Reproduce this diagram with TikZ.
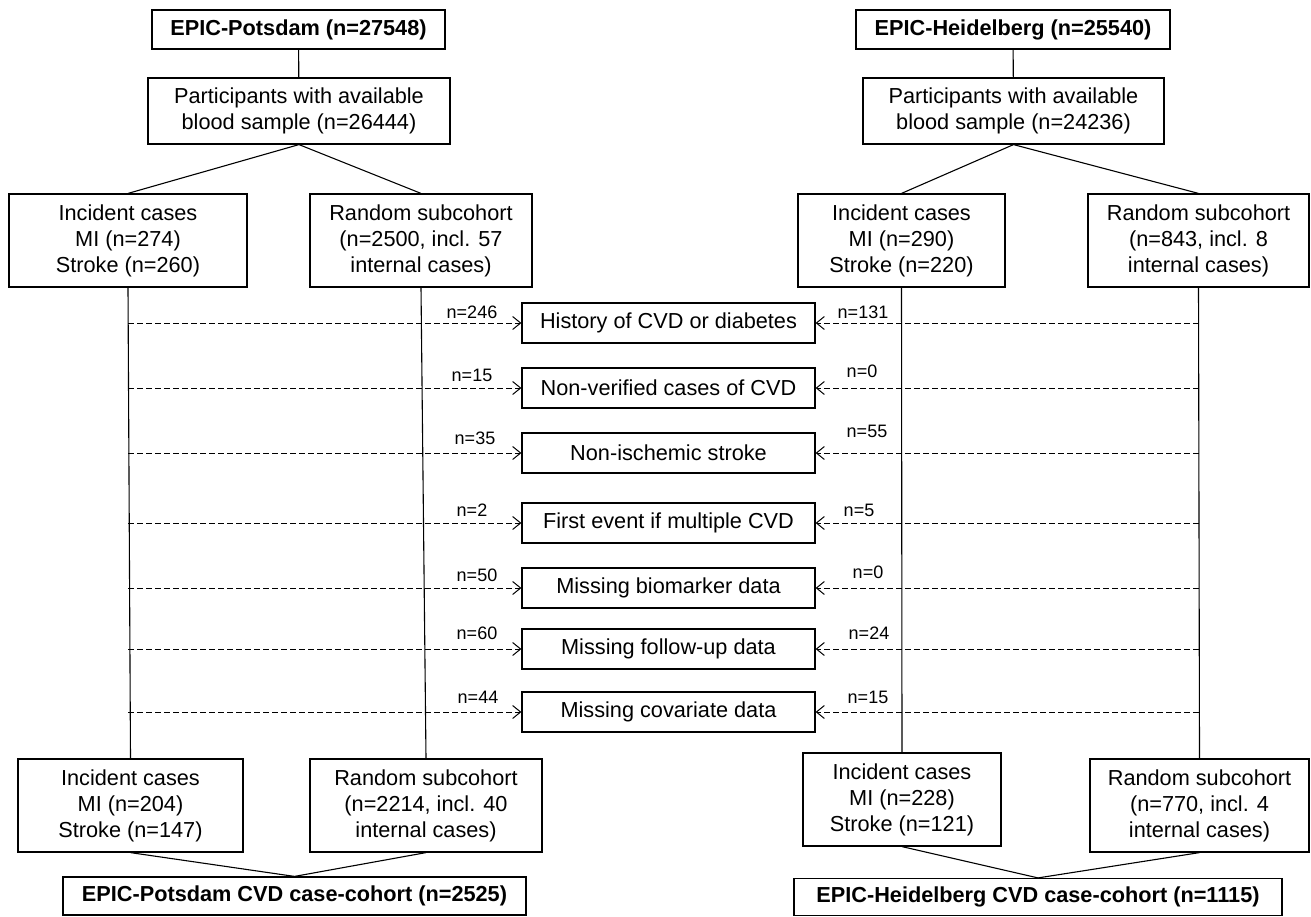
\documentclass[tikz,border=0pt]{standalone}
\usepackage{fontspec}
\setmainfont{Liberation Sans}
\usetikzlibrary{arrows.meta}
\begin{document}
\begin{tikzpicture}[x=1pt,y=-1pt,
 box/.style={draw, line width=1.2pt, align=center, inner sep=0pt, font=\fontsize{21.7}{26}\selectfont},
 tbox/.style={box, font=\fontsize{21.7}{26}\selectfont\bfseries},
 conn/.style={line width=1.1pt},
 excl/.style={line width=1pt, dash pattern=on 5.5pt off 3.5pt, -{Straight Barb[length=8pt,width=13pt,line width=1pt]}},
 lab/.style={font=\fontsize{18}{20}\selectfont, inner sep=0pt}]
\useasboundingbox (0,0) rectangle (1311,916);
% ---------- Potsdam ----------
\node[tbox, minimum width=293pt, minimum height=39pt] (P0) at (298.5,29.5) {EPIC-Potsdam (n=27548)};
\node[box, minimum width=302pt, minimum height=66pt] (P1) at (299,111) {Participants with available\\blood sample (n=26444)};
\node[box, minimum width=238pt, minimum height=93pt] (PI) at (128,240.5) {Incident cases\\MI (n=274)\\Stroke (n=260)};
\node[box, minimum width=222pt, minimum height=93pt] (PR) at (421,240.5) {Random subcohort\\(n=2500, incl. 57\\internal cases)};
\node[box, minimum width=225pt, minimum height=93pt] (PIb) at (130.5,805.5) {Incident cases\\MI (n=204)\\Stroke (n=147)};
\node[box, minimum width=232pt, minimum height=93pt] (PRb) at (426,805.5) {Random subcohort\\(n=2214, incl. 40\\internal cases)};
\node[tbox, minimum width=463pt, minimum height=38pt] (Pend) at (294.5,896) {EPIC-Potsdam CVD case-cohort (n=2525)};
% ---------- Heidelberg ----------
\node[tbox, minimum width=314pt, minimum height=39pt] (H0) at (1013,29.5) {EPIC-Heidelberg (n=25540)};
\node[box, minimum width=301pt, minimum height=66pt] (H1) at (1013.5,111) {Participants with available\\blood sample (n=24236)};
\node[box, minimum width=207pt, minimum height=93pt] (HI) at (901.5,240.5) {Incident cases\\MI (n=290)\\Stroke (n=220)};
\node[box, minimum width=221pt, minimum height=93pt] (HR) at (1198.5,240.5) {Random subcohort\\(n=843, incl. 8\\internal cases)};
\node[box, minimum width=198pt, minimum height=93pt] (HIb) at (902,799.5) {Incident cases\\MI (n=228)\\Stroke (n=121)};
\node[box, minimum width=219pt, minimum height=93pt] (HRb) at (1199.5,805.5) {Random subcohort\\(n=770, incl. 4\\internal cases)};
\node[tbox, minimum width=488pt, minimum height=37pt] (Hend) at (1038,897) {EPIC-Heidelberg CVD case-cohort (n=1115)};
% ---------- exclusion boxes ----------
\node[box, minimum width=293pt, minimum height=40pt] (M1) at (668.5,323) {History of CVD or diabetes};
\node[box, minimum width=293pt, minimum height=40pt] (M2) at (668.5,388) {Non-verified cases of CVD};
\node[box, minimum width=293pt, minimum height=40pt] (M3) at (668.5,453) {Non-ischemic stroke};
\node[box, minimum width=293pt, minimum height=40pt] (M4) at (668.5,523) {First event if multiple CVD};
\node[box, minimum width=293pt, minimum height=40pt] (M5) at (668.5,588) {Missing biomarker data};
\node[box, minimum width=293pt, minimum height=40pt] (M6) at (668.5,649) {Missing follow-up data};
\node[box, minimum width=293pt, minimum height=40pt] (M7) at (668.5,712) {Missing covariate data};
% ---------- solid connectors ----------
\draw[conn] (P0) -- (P1);
\draw[conn] (P1.south) -- (PI.north);
\draw[conn] (P1.south) -- (PR.north);
\draw[conn] (PI.south) -- (PIb.north);
\draw[conn] (PR.south) -- (PRb.north);
\draw[conn] (PIb.south) -- (Pend.north);
\draw[conn] (PRb.south) -- (Pend.north);
\draw[conn] (H0) -- (H1);
\draw[conn] (H1.south) -- (HI.north);
\draw[conn] (H1.south) -- (HR.north);
\draw[conn] (HI.south) -- (HIb.north);
\draw[conn] (HR.south) -- (HRb.north);
\draw[conn] (HIb.south) -- (Hend.north);
\draw[conn] (HRb.south) -- (Hend.north);
% ---------- dashed exclusion arrows ----------
\foreach \m in {M1,M2,M3,M4,M5,M6,M7}{
  \draw[excl] (PI.south |- \m.west) -- (\m.west);
  \draw[excl] (HR.south |- \m.east) -- (\m.east);
}
% ---------- labels ----------
\node[lab] (a1) at (472,312) {n=246};
\node[lab] (a2) at (472,375) {n=15};
\node[lab] (a3) at (475,438) {n=35};
\node[lab] (a4) at (472,510) {n=2};
\node[lab] (a5) at (477,575) {n=50};
\node[lab] (a6) at (477,633) {n=60};
\node[lab] (a7) at (478,697) {n=44};
\node[lab] (b1) at (863,312) {n=131};
\node[lab] (b2) at (862,371) {n=0};
\node[lab] (b3) at (867,431) {n=55};
\node[lab] (b4) at (859,510) {n=5};
\node[lab] (b5) at (868,572) {n=0};
\node[lab] (b6) at (869,633) {n=24};
\node[lab] (b7) at (868,697) {n=15};
\end{tikzpicture}
\end{document}
